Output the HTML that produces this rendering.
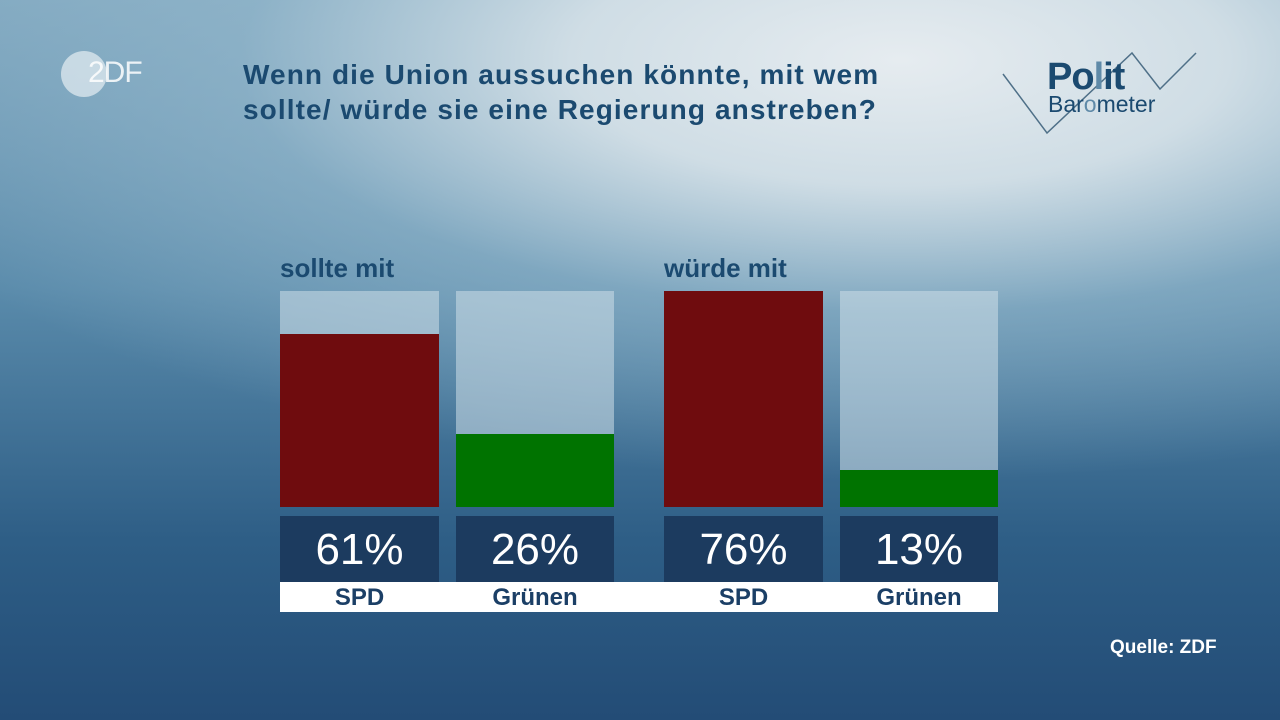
<!DOCTYPE html>
<html><head><meta charset="utf-8"><style>
body{margin:0;width:1280px;height:720px;overflow:hidden;font-family:"Liberation Sans",sans-serif;}
#bg{position:absolute;left:0;top:0;width:1280px;height:720px;
background:radial-gradient(ellipse 1100px 420px at 900px 60px,#e6ecf0 0%,#cfdde5 30%,rgba(150,185,205,0.6) 60%,rgba(80,130,165,0) 100%),linear-gradient(180deg,#7fa7bf 0%,#5a8bab 40%,#2e5e86 75%,#234c76 100%);}
.a{position:absolute}
.t{color:#1b4a70;font-weight:bold}
.track{position:absolute;background:rgba(205,222,232,0.55)}
.lab{position:absolute;top:516px;height:66px;width:159px;background:#1c3b5f;color:#fff;font-size:44px;text-align:center;line-height:68px}
.nm{position:absolute;top:582px;height:30px;width:159px;color:#1b3f66;font-weight:bold;font-size:24px;text-align:center;line-height:32px}
</style></head><body><div id="bg"></div>
<div class="a" style="left:61px;top:51px;width:46px;height:46px;border-radius:50%;background:rgba(230,238,242,0.7)"></div>
<div class="a" style="left:88px;top:56px;font-size:30px;color:#fff;letter-spacing:-1px;opacity:.85">2DF</div>
<div class="a t" style="left:243px;top:57px;font-size:28px;line-height:35px;letter-spacing:1.1px">Wenn die Union aussuchen könnte, mit wem<br>sollte/ würde sie eine Regierung anstreben?</div>
<svg class="a" style="left:990px;top:40px" width="220" height="100"><polyline points="13,34 57,93 142,13 170,49 206,13" fill="none" stroke="#4f7088" stroke-width="1.5"/></svg>
<div class="a t" style="left:1047px;top:56px;font-size:38px;letter-spacing:-1px">Po<span style="color:#5f8aa8">l</span>it</div>
<div class="a" style="left:1048px;top:91px;font-size:23px;color:#1b4a70">Bar<span style="color:#5f8aa8">o</span>meter</div>
<div class="a t" style="left:280px;top:253px;font-size:26px">sollte mit</div>
<div class="a t" style="left:664px;top:253px;font-size:26px">würde mit</div>
<div class="track" style="left:280px;top:291px;width:159px;height:216px"></div>
<div class="a" style="left:280px;top:334px;width:159px;height:173px;background:#6f0c0e"></div>
<div class="track" style="left:456px;top:291px;width:158px;height:216px"></div>
<div class="a" style="left:456px;top:434px;width:158px;height:73px;background:#007300"></div>
<div class="a" style="left:664px;top:291px;width:159px;height:216px;background:#6f0c0e"></div>
<div class="track" style="left:840px;top:291px;width:158px;height:216px"></div>
<div class="a" style="left:840px;top:470px;width:158px;height:37px;background:#007300"></div>
<div class="lab" style="left:280px">61%</div><div class="lab" style="left:456px;width:158px">26%</div>
<div class="lab" style="left:664px">76%</div><div class="lab" style="left:840px;width:158px">13%</div>
<div class="a" style="left:280px;top:582px;width:718px;height:30px;background:#fff"></div>
<div class="nm" style="left:280px">SPD</div><div class="nm" style="left:456px;width:158px">Grünen</div>
<div class="nm" style="left:664px">SPD</div><div class="nm" style="left:840px;width:158px">Grünen</div>
<div class="a" style="left:1110px;top:637px;font-size:19px;color:#fff;font-weight:bold">Quelle: ZDF</div>
</body></html>
